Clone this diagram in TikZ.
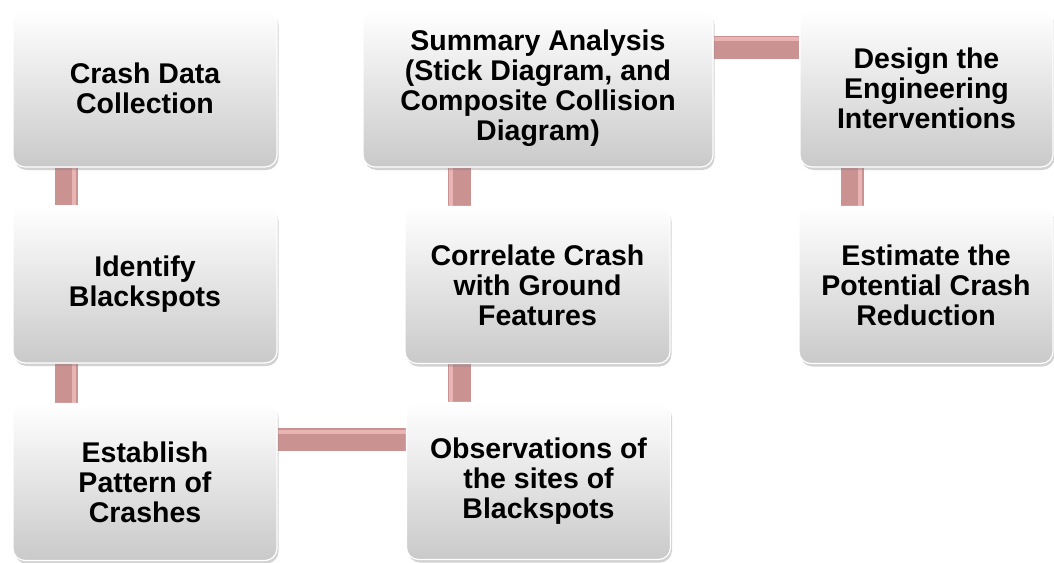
\documentclass[tikz,border=0pt]{standalone}
\usepackage{fontspec}
\setmainfont{Liberation Sans}
\usetikzlibrary{shadows,calc}
\pgfdeclarelayer{bot}
\pgfdeclarelayer{bg}
\pgfsetlayers{bot,bg,main}
\definecolor{barpink}{RGB}{203,146,146}
\definecolor{barlight}{RGB}{232,180,180}
\tikzset{
  stepbox/.style={rounded corners=12pt, top color=white, bottom color=black!21,
    draw=white, line width=1.2pt,
    drop shadow={opacity=0.35, shadow xshift=1.5pt, shadow yshift=-3pt},
    align=center, font=\fontsize{28.5}{30}\selectfont\bfseries,
    inner sep=0pt, minimum height=157pt},
  conn/.style={line width=23pt, draw=barpink},
  connhi/.style={line width=4pt, draw=barlight},
}
\begin{document}
\begin{tikzpicture}[x=1pt,y=1pt]
\useasboundingbox (0,0) rectangle (1054,-562);
\begin{pgfonlayer}{bot}
\fill[white] (0,0) rectangle (1054,-562);
\end{pgfonlayer}
\node[stepbox, minimum width=264pt] (b1) at (145,-88.5) {Crash Data\\Collection};
\node[stepbox, minimum width=264pt] (b2) at (145,-284.5) {Identify\\Blackspots};
\node[stepbox, minimum width=264pt] (b3) at (145,-482) {Establish\\Pattern of\\Crashes};
\node[stepbox, minimum width=350pt] (b4) at (538,-88.5) {Summary Analysis\\(Stick Diagram, and\\Composite Collision\\Diagram)};
\node[stepbox, minimum width=265pt] (b5) at (537.5,-285) {Correlate Crash\\with Ground\\Features};
\node[stepbox, minimum width=264pt] (b6) at (538.5,-481) {Observations of\\the sites of\\Blackspots};
\node[stepbox, minimum width=253pt] (b7) at (926.5,-88.5) {Design the\\Engineering\\Interventions};
\node[stepbox, minimum width=254pt] (b8) at (926,-285) {Estimate the\\Potential Crash\\Reduction};
\begin{pgfonlayer}{bg}
  % vertical connectors
  \coordinate (c1) at ([xshift=54pt]b1.south west);
  \coordinate (c5) at ([xshift=55pt]b5.north west);
  \coordinate (c7) at ([xshift=53pt]b7.south west);
  \draw[conn] (c1) -- (c1 |- b2.north);
  \draw[conn] (c1 |- b2.south) -- (c1 |- b3.north);
  \draw[conn] (c5 |- b4.south) -- (c5 |- b5.north);
  \draw[conn] (c5 |- b5.south) -- (c5 |- b6.north);
  \draw[conn] (c7) -- (c7 |- b8.north);
  % horizontal connectors
  \coordinate (r1) at ([yshift=-38pt]b4.north east);
  \coordinate (r3) at ([yshift=-37pt]b3.north east);
  \draw[conn] (r1) -- (r1 -| b7.west);
  \draw[conn] (r3) -- (r3 -| b6.west);
  % highlights
  \draw[connhi] ([xshift=8pt]c1) -- ([xshift=8pt]c1 |- b2.north);
  \draw[connhi] ([xshift=8pt]c1 |- b2.south) -- ([xshift=8pt]c1 |- b3.north);
  \draw[connhi] ([xshift=-8pt]c5 |- b4.south) -- ([xshift=-8pt]c5 |- b5.north);
  \draw[connhi] ([xshift=-8pt]c5 |- b5.south) -- ([xshift=-8pt]c5 |- b6.north);
  \draw[connhi] ([xshift=8pt]c7) -- ([xshift=8pt]c7 |- b8.north);
  \draw[connhi] ([yshift=8pt]r1) -- ([yshift=8pt]r1 -| b7.west);
  \draw[connhi] ([yshift=8pt]r3) -- ([yshift=8pt]r3 -| b6.west);
\end{pgfonlayer}
\end{tikzpicture}
\end{document}
